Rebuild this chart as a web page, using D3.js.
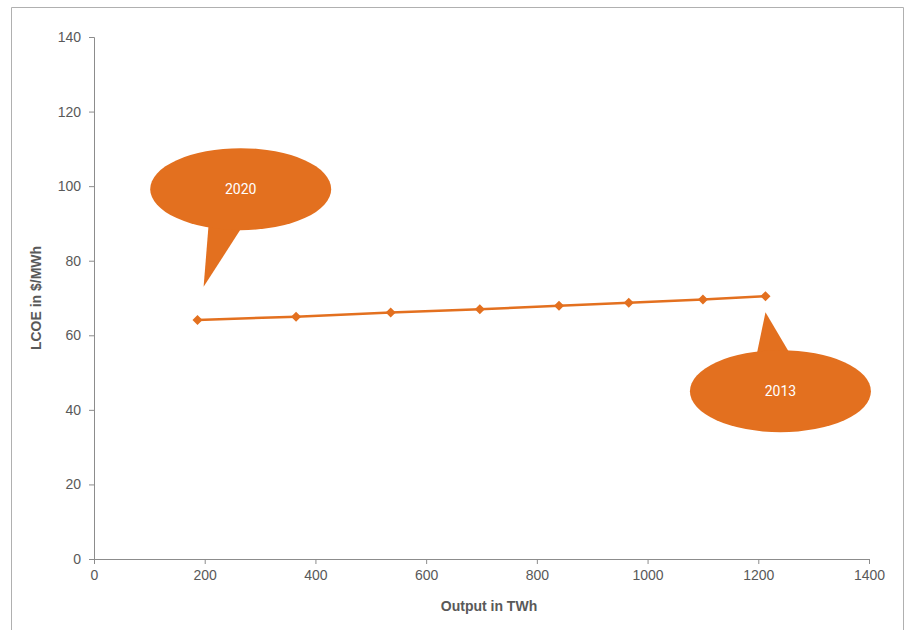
<!DOCTYPE html>
<html>
<head>
<meta charset="utf-8">
<script src="https://cdn.jsdelivr.net/npm/d3@7"></script>
<style>
  body { margin: 0; background: #fff; }
  svg { display: block; font-family: "Liberation Sans", Arial, sans-serif; }
</style>
</head>
<body>
<div id="chart"></div>
<script>
// Dati
const output = [187, 365, 536, 697, 840, 966, 1100, 1213];
const lcoe = [64.1, 65.0, 66.1, 67.0, 67.9, 68.7, 69.6, 70.5];
const xTicks = [0, 200, 400, 600, 800, 1000, 1200, 1400];
const yTicks = [0, 20, 40, 60, 80, 100, 120, 140];
const calloutLabels = ["2020", "2013"];
// centro fumetto e punta, in coordinate dati
const calloutCenters = [[265, 99.2], [1240, 45]];
const calloutTips = [[198, 73], [1213, 66.2]];

const width = 908, height = 630;
const margin = { top: 37, right: 39, bottom: 71, left: 94 };
const innerWidth = width - margin.left - margin.right;
const innerHeight = height - margin.top - margin.bottom;
const orange = "#e3701f";
const axisGrey = "#8c8c8c";
const textGrey = "#595959";

const svg = d3.select("#chart").append("svg").attr("width", width).attr("height", height);

// Cornice
svg.append("path")
    .attr("d", `M11.5,${height}V7.5H903.5V${height}`)
    .attr("fill", "none").attr("stroke", "#b0b0b0").attr("stroke-width", 1);

const g = svg.append("g").attr("transform", `translate(${margin.left},${margin.top})`);

const xScale = d3.scaleLinear().domain([0, 1400]).range([0, innerWidth]);
const yScale = d3.scaleLinear().domain([0, 140]).range([innerHeight, 0]);

// Assi
const xAxis = g.append("g").attr("transform", `translate(0,${innerHeight})`)
    .call(d3.axisBottom(xScale).tickValues(xTicks).tickFormat(d3.format("d")).tickSize(5).tickPadding(6));
const yAxis = g.append("g")
    .call(d3.axisLeft(yScale).tickValues(yTicks).tickFormat(d3.format("d")).tickSize(5).tickPadding(8));
[xAxis, yAxis].forEach(a => {
    a.attr("font-family", null);
    a.select(".domain").attr("stroke", axisGrey);
    a.selectAll(".tick line").attr("stroke", axisGrey);
    a.selectAll(".tick text").attr("fill", textGrey).style("font-size", "14px");
});

// Titoli assi
svg.append("text")
    .attr("x", 489).attr("y", 611).attr("text-anchor", "middle")
    .attr("fill", textGrey).style("font-size", "14px").style("font-weight", "bold")
    .text("Output in TWh");
svg.append("text")
    .attr("transform", `translate(41,${margin.top + innerHeight / 2}) rotate(-90)`)
    .attr("text-anchor", "middle")
    .attr("fill", textGrey).style("font-size", "14px").style("font-weight", "bold")
    .text("LCOE in $/MWh");

// Linea
const line = d3.line().x((d, i) => xScale(output[i])).y(d => yScale(d));
g.append("path").datum(lcoe)
    .attr("d", line).attr("fill", "none").attr("stroke", orange).attr("stroke-width", 2.5);

g.selectAll(".marker").data(lcoe).enter().append("path")
    .attr("class", "marker")
    .attr("transform", (d, i) => `translate(${xScale(output[i])},${yScale(d)})`)
    .attr("d", "M0,-5L5,0L0,5L-5,0Z")
    .attr("fill", orange);

// Fumetti
calloutLabels.forEach((label, i) => {
    const cx = xScale(calloutCenters[i][0]), cy = yScale(calloutCenters[i][1]);
    const tx = xScale(calloutTips[i][0]), ty = yScale(calloutTips[i][1]);
    const rx = 90.5, ry = 41;
    const up = ty < cy;
    // base della coda sul bordo dell'ellisse
    const by = (x) => cy + (up ? -1 : 1) * ry * Math.sqrt(Math.max(0, 1 - ((x - cx) / rx) ** 2));
    const b1 = up ? [cx - 24, by(cx - 24) + 4] : [cx - 32, by(cx - 32) - 4];
    const b2 = up ? [cx + 10, by(cx + 10) + 4] : [cx + 2, by(cx + 2) - 4];
    const grp = g.append("g");
    grp.append("path")
        .attr("d", `M${b1[0]},${b1[1]}L${tx},${ty}L${b2[0]},${b2[1]}Z`)
        .attr("fill", orange);
    grp.append("ellipse")
        .attr("cx", cx).attr("cy", cy).attr("rx", rx).attr("ry", ry)
        .attr("fill", orange);
    grp.append("text")
        .attr("x", cx).attr("y", cy + 5).attr("text-anchor", "middle")
        .attr("fill", "#fff")
        .style("font-family", "\"Liberation Sans Narrow\", \"Arial Narrow\", \"Roboto\", sans-serif")
        .style("font-size", "14px")
        .text(label);
});
</script>
</body>
</html>
